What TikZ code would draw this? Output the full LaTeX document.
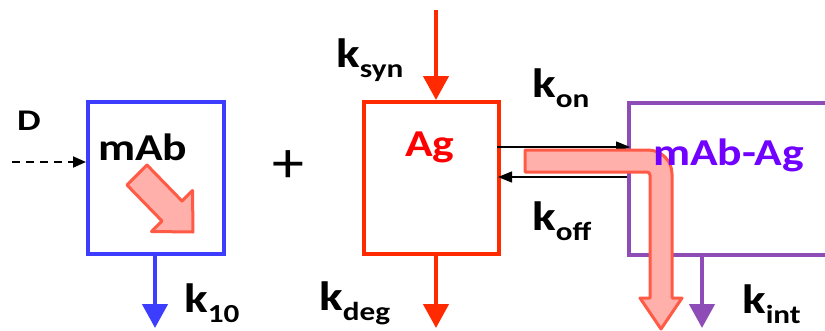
\documentclass[tikz,border=0pt]{standalone}
\usepackage{fontspec}
\setmainfont{Carlito}
\usepackage{graphicx}
\usetikzlibrary{arrows.meta,calc}
\definecolor{mblue}{HTML}{3D3DFF}
\definecolor{agred}{HTML}{FF2A00}
\definecolor{agtext}{HTML}{FF0000}
\definecolor{cxbox}{HTML}{8E4CB6}
\definecolor{cxtext}{HTML}{7000FF}
\definecolor{pinkfill}{HTML}{FFB0AA}
\definecolor{pinkline}{HTML}{FF5A45}
\newcommand{\klabel}[1]{\scalebox{1.2}[1]{\fontsize{41}{41}\selectfont k\raisebox{-10pt}{\fontsize{26}{26}\selectfont #1}}}
\newcommand{\boxtext}[1]{\scalebox{1.2}[1]{\fontsize{38}{38}\selectfont #1}}
\tikzset{
  compbox/.style={draw, line width=4pt, minimum height=152pt, inner sep=0pt},
  lbl/.style={inner sep=0pt, anchor=base west, font=\bfseries},
  flow/.style={line width=4.5pt, -{Triangle[width=25pt,length=24pt]}},
  thinarrow/.style={line width=1.4pt, -{Triangle[width=11pt,length=14pt]}},
  bigarrow/.style={draw=pinkline, fill=pinkfill, line width=3pt, line join=round}
}
\begin{document}
\begin{tikzpicture}[x=1pt,y=-1pt]
\useasboundingbox (0,0) rectangle (825,330);
\clip (0,0) rectangle (825,330);
% boxes
\node[compbox, draw=mblue, minimum width=136pt] (mab) at (156,178) {};
\node[compbox, draw=agred, minimum width=135pt] (ag) at (431.5,178) {};
\node[compbox, draw=cxbox, minimum width=241pt] (cx) at (749.5,178.5) {};
% D input
\coordinate (dstart) at (12,162);
\draw[line width=1.8pt, dash pattern=on 8pt off 6pt, -{Triangle[width=11pt,length=13pt]}] (dstart) -- (dstart -| mab.west);
% elimination mAb
\coordinate (tenEnd) at (155,328);
\draw[flow, draw=mblue, fill=mblue] (tenEnd |- mab.south) -- (tenEnd);
% synthesis Ag
\coordinate (synIn) at (436,10);
\draw[flow, draw=agred, fill=agred] (synIn) -- (synIn |- ag.north);
\coordinate (degEnd) at (436,328);
\draw[flow, draw=agred, fill=agred] (degEnd |- ag.south) -- (degEnd);
% internalization
\coordinate (intEnd) at (702,328);
\draw[flow, draw=cxbox, fill=cxbox] (intEnd |- cx.south) -- (intEnd);
% binding
\coordinate (onY) at (0,147);
\coordinate (offY) at (0,177);
\draw[thinarrow] ($(ag.east |- onY)+(-4,0)$) -- ($(cx.west |- onY)+(3,0)$);
\draw[thinarrow] (cx.west |- offY) -- ($(ag.east |- offY)+(-3,0)$);
% diagonal pink arrow in mAb box
\draw[bigarrow] (147,165) -- (182,201) -- (192.5,190.5) -- (193,232) -- (151.5,231.5) -- (162,221) -- (127,185) -- cycle;
% bent pink arrow
\draw[bigarrow] (525,150) -- (648,150) .. controls (661.3,150) and (672,160.7) .. (672,174) -- (672,298) -- (682,298) -- (661,329) -- (640,298) -- (650,298) -- (650,175) .. controls (650,173.3) and (648.7,172) .. (647,172) -- (525,172) -- cycle;
% texts
\node[lbl] (tD) at (17,130) {\scalebox{1.25}[1]{\fontsize{30}{30}\selectfont D}};
\node[lbl] (tmab) at (98,160) {\boxtext{mAb}};
\node[lbl, text=agtext] (tag) at (405,156) {\boxtext{Ag}};
\node[lbl, text=cxtext] (tcx) at (653,165) {\boxtext{mAb-Ag}};
\node[inner sep=0pt] (plus) at (288,167) {\scalebox{1.1}[1]{\fontsize{58}{58}\selectfont +}};
\node[lbl] (k10) at (184,312) {\klabel{10}};
\node[lbl] (ksyn) at (336,67) {\klabel{syn}};
\node[lbl] (kdeg) at (319,310) {\klabel{deg}};
\node[lbl] (kon) at (532,97) {\klabel{on}};
\node[lbl] (koff) at (532,230) {\klabel{off}};
\node[lbl] (kint) at (742,313) {\klabel{int}};
\end{tikzpicture}
\end{document}
